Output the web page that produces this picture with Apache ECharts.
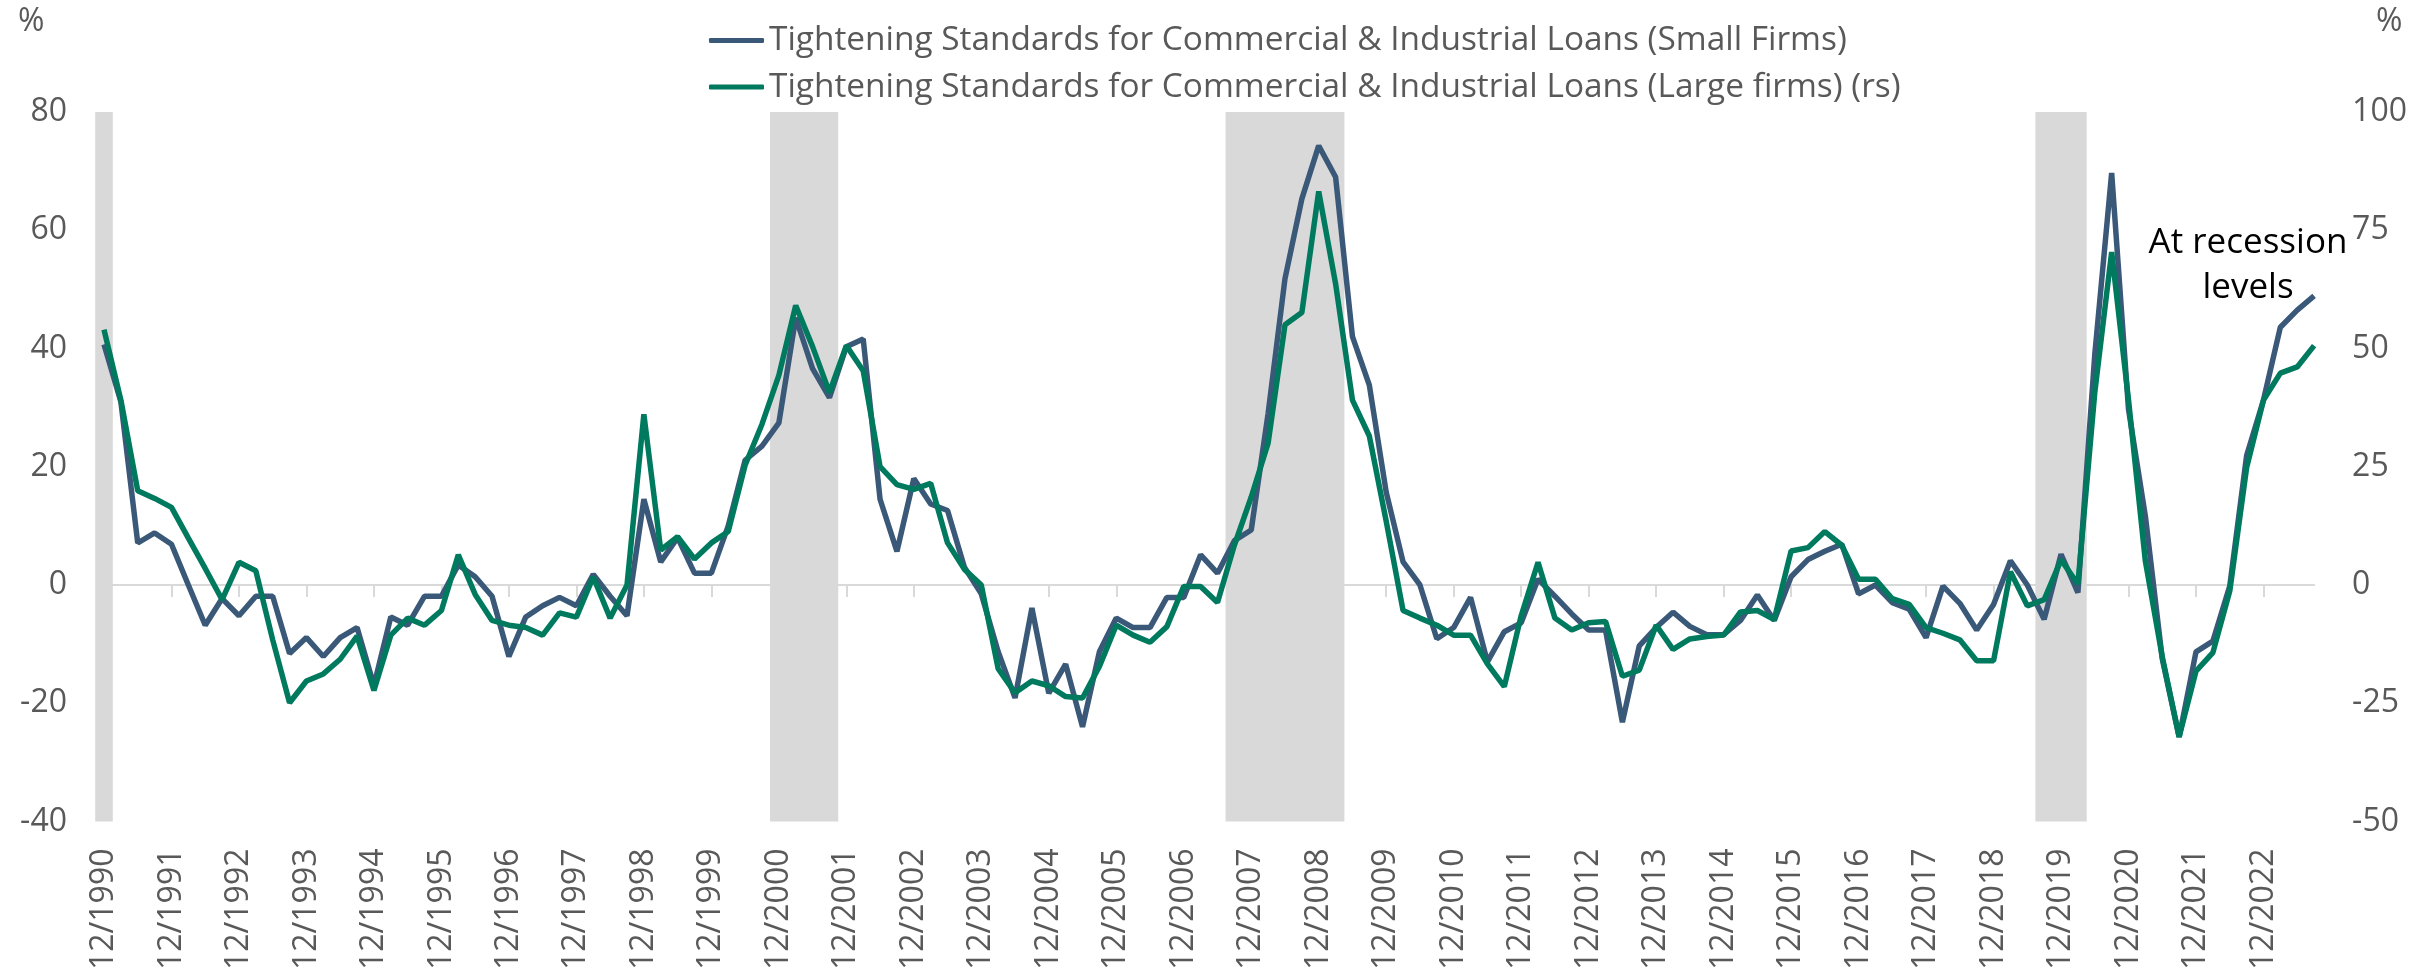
<!DOCTYPE html>
<html>
<head>
<meta charset="utf-8">
<title>Tightening Standards for C&amp;I Loans</title>
<script src="https://cdn.jsdelivr.net/npm/echarts@6/dist/echarts.min.js"></script>
<style>
  html, body { margin: 0; padding: 0; background: #fff; }
  #main { width: 2410px; height: 973px; }
</style>
</head>
<body>
<div id="main"></div>
<script>
// quarterly survey dates 12/1990 .. 9/2023
var quarters = [];
for (var y = 1990; y <= 2023; y++) {
  [3, 6, 9, 12].forEach(function (m) {
    if ((y === 1990 && m < 12) || (y === 2023 && m > 9)) return;
    quarters.push(m + '/' + y);
  });
}

// net % of banks tightening, small firms (left axis)
var smallFirms = [
  40.7, 31, 7.1, 8.8, 6.9, 0, -6.8, -2.3, -5.2, -1.9,
  -1.9, -11.6, -8.9, -12.1, -8.9, -7.2, -17.0, -5.4, -6.8, -1.9,
  -1.9, 3.4, 1.4, -1.9, -12.1, -5.4, -3.5, -2.1, -3.5, 1.8,
  -1.9, -5.2, 14.5, 3.9, 8.0, 2.0, 2.0, 10, 21.1, 23.5,
  27.4, 45.2, 36.6, 31.7, 40.3, 41.6, 14.5, 5.7, 18.0, 13.7,
  12.6, 3.0, -1.5, -11.3, -19.1, -3.9, -18.3, -13.4, -24.0, -11.3,
  -5.6, -7.2, -7.2, -2.1, -2.1, 5.1, 2.0, 7.5, 9.3, 29,
  51.8, 65.3, 74.3, 69.0, 42.0, 33.8, 15.7, 3.9, 0, -9.1,
  -7.2, -2.1, -13.0, -7.9, -6.4, 1.0, -1.9, -4.9, -7.6, -7.6,
  -23.2, -10.3, -7.2, -4.6, -7.0, -8.4, -8.4, -6.0, -1.7, -6.0,
  1.4, 4.3, 5.7, 6.9, -1.5, 0, -3.0, -4.1, -8.9, -0.2,
  -3.1, -7.6, -3.3, 4.1, 0, -5.8, 5.2, -1.3, 39, 69.7,
  29.7, 11.6, -12.5, -25.7, -11.3, -9.5, -0.2, 21.9, 31.3, 43.6,
  46.5, 48.9
];

// net % of banks tightening, large & middle-market firms (right axis)
var largeFirms = [
  54.0, 39.1, 19.9, 18.3, 16.4, 9.9, 3.5, -3.1, 4.8, 3.0,
  -11.6, -24.9, -20.3, -18.8, -15.7, -10.8, -22.3, -10.6, -7.0, -8.5,
  -5.4, 6.4, -2.0, -7.5, -8.5, -9.0, -10.6, -5.9, -6.8, 1.7,
  -7.0, 0, 36.1, 7.4, 10.2, 5.5, 8.9, 11.3, 25.3, 34.0,
  44.3, 59.1, 50.4, 40.7, 50.6, 45.3, 25, 21.2, 20.2, 21.5,
  8.9, 3.3, 0, -17.7, -22.8, -20.3, -21.3, -23.6, -23.9, -17.2,
  -8.5, -10.6, -12.1, -8.8, -0.3, -0.3, -3.7, 8.4, 18.6, 30,
  55.0, 57.6, 83.2, 63.7, 39.1, 31.5, 13.5, -5.4, -7.0, -8.5,
  -10.6, -10.6, -16.7, -21.5, -6.5, 4.8, -7.0, -9.5, -8.0, -7.7,
  -19.3, -18.0, -8.5, -13.6, -11.4, -10.9, -10.6, -5.7, -5.4, -7.3,
  7.2, 7.9, 11.3, 8.4, 1.2, 1.2, -2.9, -4.1, -9.0, -10.2,
  -11.6, -16.0, -16.0, 2.8, -4.4, -3.1, 5.3, 0.2, 40.7, 70.4,
  39.1, 5, -15.2, -32.1, -18.2, -14.3, -1.3, 24.8, 39.1, 44.8,
  46.1, 50.6
];

// quarters shaded as recession
var recessionQuarters = [
  '12/1990',
  '12/2000', '3/2001', '6/2001', '9/2001',
  '9/2007', '12/2007', '3/2008', '6/2008', '9/2008', '12/2008', '3/2009',
  '9/2019', '12/2019', '3/2020'
];

var leftTicks = { min: -40, max: 80, step: 20 };
var rightTicks = { min: -50, max: 100, step: 25 };

var seriesNames = [
  'Tightening Standards for Commercial & Industrial Loans (Small Firms)',
  'Tightening Standards for Commercial & Industrial Loans (Large firms) (rs)'
];

var recessionBars = quarters.map(function (q) {
  return recessionQuarters.indexOf(q) >= 0 ? 1 : null;
});

var FONT = '"Open Sans", "Noto Sans", sans-serif';
var GREY = '#595959';
var SHADE = '#D9D9D9';

var myChart = echarts.init(document.getElementById('main'));
myChart.setOption({
  animation: false,
  backgroundColor: '#fff',
  grid: {
    left: 104,
    right: 95,
    top: 112,
    bottom: 151
  },
  legend: {
    data: seriesNames,
    orient: 'vertical',
    left: 704,
    top: 19,
    itemGap: 13.6,
    itemWidth: 55,
    itemHeight: 5,
    icon: 'roundRect',
    textStyle: { fontSize: 33.4, color: GREY, fontFamily: FONT }
  },
  xAxis: [
    {
      type: 'category',
      data: quarters,
      boundaryGap: false,
      position: 'bottom',
      axisLine: { show: false, onZero: false },
      axisTick: { show: false },
      axisLabel: {
        interval: 3,
        rotate: 90,
        margin: 27,
        fontSize: 32,
        color: GREY,
        fontFamily: FONT
      },
      splitLine: { show: false }
    },
    {
      // zero line with its ticks
      type: 'category',
      data: quarters,
      boundaryGap: false,
      position: 'bottom',
      axisLine: {
        onZero: true,
        onZeroAxisIndex: 0,
        lineStyle: { color: SHADE, width: 2 }
      },
      axisTick: {
        interval: 3,
        length: 12,
        lineStyle: { color: SHADE, width: 2 }
      },
      axisLabel: { show: false },
      splitLine: { show: false }
    }
  ],
  yAxis: [
    {
      type: 'value',
      position: 'left',
      min: leftTicks.min,
      max: leftTicks.max,
      interval: leftTicks.step,
      axisLine: { show: false },
      axisTick: { show: false },
      splitLine: { show: false },
      axisLabel: { margin: 37, fontSize: 32, color: GREY, fontFamily: FONT }
    },
    {
      type: 'value',
      position: 'right',
      min: rightTicks.min,
      max: rightTicks.max,
      interval: rightTicks.step,
      axisLine: { show: false },
      axisTick: { show: false },
      splitLine: { show: false },
      axisLabel: { margin: 38, fontSize: 32, color: GREY, fontFamily: FONT }
    },
    {
      // recession shading
      type: 'value',
      min: 0,
      max: 1,
      show: false
    }
  ],
  series: [
    {
      name: 'recession',
      type: 'bar',
      xAxisIndex: 0,
      yAxisIndex: 2,
      data: recessionBars,
      barWidth: 17.6, // a hair wider than a quarter so no seams show
      itemStyle: { color: SHADE },
      silent: true,
      z: 1
    },
    {
      name: seriesNames[0],
      type: 'line',
      xAxisIndex: 0,
      yAxisIndex: 0,
      data: smallFirms,
      symbol: 'none',
      itemStyle: { color: '#3A5878' },
      lineStyle: { color: '#3A5878', width: 5.5 },
      z: 3
    },
    {
      name: seriesNames[1],
      type: 'line',
      xAxisIndex: 0,
      yAxisIndex: 1,
      data: largeFirms,
      symbol: 'none',
      itemStyle: { color: '#007A5E' },
      lineStyle: { color: '#007A5E', width: 5.5 },
      z: 4
    }
  ],
  graphic: [
    {
      type: 'text', left: 18, top: 6,
      style: { text: '%', fontSize: 32, fill: GREY, fontFamily: FONT }
    },
    {
      type: 'text', left: 2376, top: 6,
      style: { text: '%', fontSize: 32, fill: GREY, fontFamily: FONT }
    },
    {
      type: 'text', x: 2248, y: 221,
      style: {
        text: 'At recession\nlevels',
        fontSize: 35,
        lineHeight: 45,
        fill: '#000',
        align: 'center',
        fontFamily: FONT
      }
    }
  ]
});
</script>
</body>
</html>
